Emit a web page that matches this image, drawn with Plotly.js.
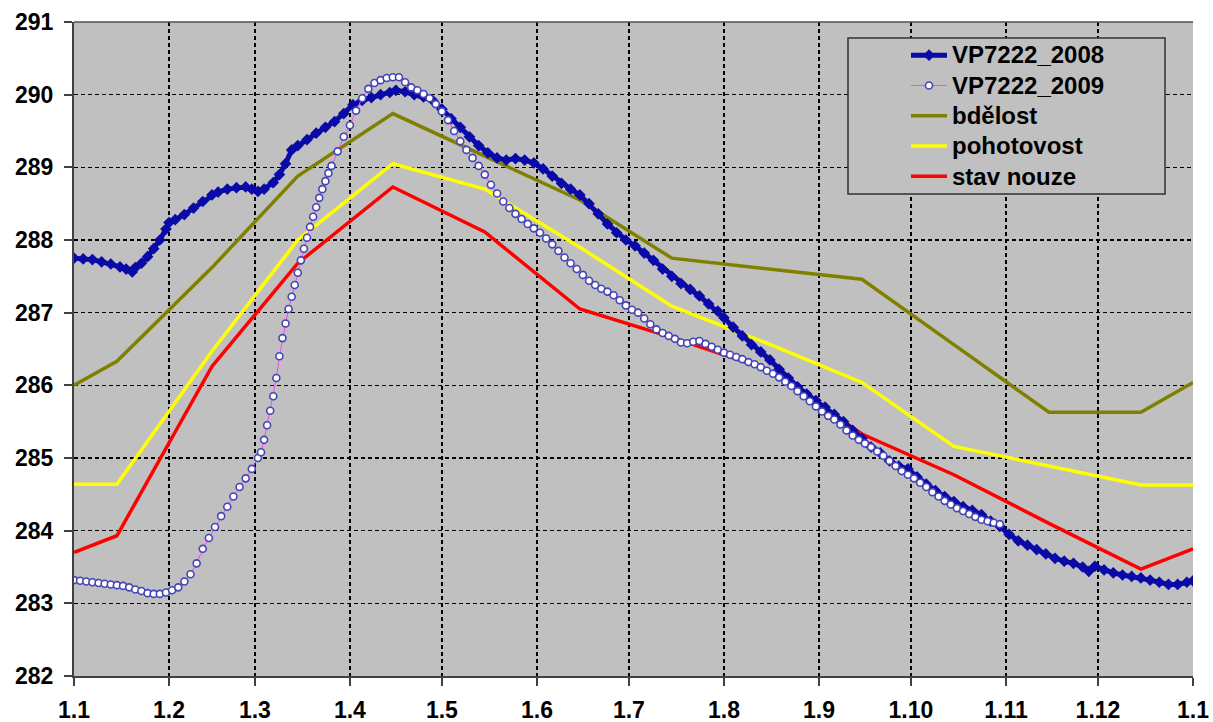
<!DOCTYPE html>
<html>
<head>
<meta charset="utf-8">
<script src="https://cdn.plot.ly/plotly-3.0.1.min.js"></script>
<style>
  html, body { margin: 0; padding: 0; background: #ffffff; }
  #chart { width: 1213px; height: 722px; }
</style>
</head>
<body>
<div id="chart"></div>
<script>
// ---- data (x = day of year, 0 = 1 Jan) ----
const monthTickVals = [0, 31, 59, 90, 120, 151, 181, 212, 243, 273, 304, 334, 365];
const monthTickText = ['1.1', '1.2', '1.3', '1.4', '1.5', '1.6', '1.7', '1.8', '1.9', '1.10', '1.11', '1.12', '1.1'];
const yTickVals = [282, 283, 284, 285, 286, 287, 288, 289, 290, 291];
const seriesNames = ['VP7222_2008', 'VP7222_2009', 'bdělost', 'pohotovost', 'stav nouze'];

const thresholdDays = [0, 14, 45, 73, 104, 134, 165, 195, 226, 257, 287, 318, 348, 365];
const bdelost     = [286.00, 286.33, 287.62, 288.88, 289.74, 289.15, 288.55, 287.75, 287.60, 287.46, 286.56, 285.63, 285.63, 286.04];
const pohotovost  = [284.64, 284.64, 286.47, 288.00, 289.05, 288.70, 287.90, 287.09, 286.58, 286.04, 285.16, 284.89, 284.63, 284.63];
const stavNouze   = [283.70, 283.93, 286.26, 287.68, 288.73, 288.11, 287.05, 286.66, 286.22, 285.33, 284.77, 284.10, 283.47, 283.75];

const days2008 = [0,3,6,9,12,15,17,19,20,22,24,26,28,30,31,33,36,39,42,45,47,50,53,56,58,60,62,65,67,69,71,73,76,79,82,85,88,91,94,97,100,103,105,108,111,114,117,120,123,126,129,132,135,138,141,144,147,150,153,156,159,162,165,168,171,174,177,180,183,186,189,192,195,198,201,204,207,210,212,215,218,221,224,227,230,233,236,239,242,245,248,251,254,257,260,263,266,269,272,275,278,281,284,287,290,293,296,299,302,305,308,311,314,317,320,323,326,329,331,333,336,339,342,345,348,351,354,357,360,363,365];
const vals2008 = [287.75,287.74,287.73,287.70,287.67,287.63,287.60,287.56,287.62,287.68,287.77,287.88,288.00,288.15,288.24,288.28,288.35,288.44,288.53,288.62,288.66,288.70,288.72,288.73,288.70,288.67,288.70,288.79,288.90,289.05,289.24,289.30,289.38,289.47,289.55,289.63,289.74,289.86,289.92,289.96,290.00,290.03,290.06,290.04,290.00,289.97,289.92,289.80,289.67,289.55,289.42,289.30,289.20,289.13,289.10,289.12,289.10,289.06,288.98,288.88,288.78,288.70,288.62,288.50,288.36,288.22,288.10,288.00,287.92,287.82,287.72,287.60,287.50,287.40,287.32,287.23,287.12,287.02,286.93,286.80,286.68,286.56,286.46,286.35,286.22,286.10,285.98,285.88,285.79,285.70,285.60,285.50,285.38,285.27,285.15,285.07,284.96,284.89,284.85,284.74,284.64,284.55,284.47,284.40,284.33,284.28,284.22,284.13,284.06,283.95,283.86,283.80,283.74,283.68,283.62,283.58,283.55,283.50,283.44,283.51,283.46,283.42,283.39,283.37,283.35,283.32,283.29,283.26,283.26,283.29,283.31];

const days2009 = [0,2,4,6,8,10,12,14,16,18,20,22,24,26,28,30,32,34,36,38,40,42,44,46,48,50,52,54,56,58,60,61,62,63,64,65,66,67,68,69,70,71,72,73,74,75,76,77,78,79,80,81,82,83,84,86,88,90,92,94,96,98,100,102,104,106,108,110,112,114,116,118,120,122,124,126,128,130,132,134,136,138,140,142,144,146,148,150,152,154,156,158,160,162,164,166,168,170,172,174,176,178,180,182,184,186,188,190,192,194,196,198,200,202,204,206,208,210,212,214,216,218,220,222,224,226,228,230,232,234,236,238,240,242,244,246,248,250,252,254,256,258,260,262,264,266,268,270,272,274,276,278,280,282,284,286,288,290,292,294,296,298,300,302];
const vals2009 = [283.32,283.31,283.30,283.29,283.28,283.27,283.26,283.25,283.24,283.22,283.19,283.17,283.14,283.13,283.13,283.15,283.18,283.22,283.30,283.40,283.55,283.75,283.90,284.05,284.20,284.33,284.47,284.60,284.72,284.85,285.00,285.08,285.25,285.45,285.65,285.85,286.10,286.40,286.65,286.85,287.05,287.22,287.38,287.55,287.72,287.88,288.03,288.18,288.32,288.45,288.58,288.70,288.81,288.92,289.02,289.22,289.42,289.58,289.78,289.95,290.08,290.16,290.20,290.23,290.24,290.24,290.17,290.10,290.06,290.01,289.95,289.87,289.77,289.65,289.50,289.36,289.24,289.13,289.02,288.90,288.76,288.64,288.53,288.44,288.36,288.29,288.22,288.16,288.10,288.02,287.94,287.85,287.76,287.68,287.60,287.52,287.44,287.38,287.33,287.29,287.24,287.17,287.10,287.04,287.00,286.92,286.84,286.77,286.72,286.68,286.64,286.59,286.58,286.60,286.61,286.57,286.53,286.49,286.45,286.42,286.39,286.36,286.32,286.29,286.25,286.20,286.16,286.11,286.05,285.99,285.92,285.85,285.78,285.71,285.64,285.58,285.53,285.46,285.38,285.31,285.25,285.20,285.15,285.09,285.03,284.96,284.89,284.82,284.77,284.72,284.66,284.60,284.53,284.47,284.41,284.36,284.31,284.27,284.23,284.19,284.15,284.13,284.11,284.09];

// ---- style ----
const FONT = 'Liberation Sans, Arial, sans-serif';
const plotL = 74, plotR = 20, plotT = 22, plotB = 46, W = 1213, H = 722;
const pw = W - plotL - plotR, ph = H - plotT - plotB;
const px = v => (v - plotL) / pw;
const py = v => 1 - (v - plotT) / ph;
const legName = s => '<span style="font-size:24px">' + s + '</span>';

const traces = [
  { name: legName(seriesNames[2]), x: thresholdDays, y: bdelost, mode: 'lines', legendrank: 3,
    line: { color: '#808000', width: 3.5 } },
  { name: legName(seriesNames[3]), x: thresholdDays, y: pohotovost, mode: 'lines', legendrank: 4,
    line: { color: '#ffff00', width: 3.5 } },
  { name: legName(seriesNames[4]), x: thresholdDays, y: stavNouze, mode: 'lines', legendrank: 5,
    line: { color: '#ff0000', width: 3.5 } },
  { name: legName(seriesNames[0]), x: days2008, y: vals2008, mode: 'lines+markers', legendrank: 1,
    line: { color: '#0a0aa8', width: 5 },
    marker: { symbol: 'diamond', size: 9, color: '#0a0aa8', line: { width: 0 } } },
  { name: legName(seriesNames[1]), x: days2009, y: vals2009, mode: 'lines+markers', legendrank: 2,
    line: { color: '#ff40ff', width: 1 },
    marker: { symbol: 'circle', size: 7, color: '#ffffff', line: { color: '#4444b8', width: 1.6 } } }
];

const layout = {
  width: W, height: H,
  margin: { l: plotL, r: plotR, t: plotT, b: plotB, pad: 0 },
  paper_bgcolor: '#ffffff',
  plot_bgcolor: '#c0c0c0',
  showlegend: true,
  legend: {
    x: px(906), xanchor: 'left', y: py(35), yanchor: 'top',
    bgcolor: 'rgba(0,0,0,0)', borderwidth: 0,
    font: { family: FONT, size: 21, color: '#000', weight: 'bold' },
    itemwidth: 36, traceorder: 'normal'
  },
  xaxis: {
    range: [0, 365], tickmode: 'array', tickvals: monthTickVals, ticktext: monthTickText,
    showgrid: true, gridcolor: '#000000', gridwidth: 1.5, griddash: '4px,3px',
    zeroline: false, showline: true, linecolor: '#404040', linewidth: 2,
    ticks: 'outside', ticklen: 8, tickwidth: 2, tickcolor: '#404040',
    tickfont: { family: FONT, size: 23, color: '#000', weight: 'bold' },
    ticklabelstandoff: 4, fixedrange: true
  },
  yaxis: {
    range: [282, 291], tickmode: 'array', tickvals: yTickVals,
    showgrid: true, gridcolor: '#000000', gridwidth: 1.5, griddash: '4px,3px',
    zeroline: false, showline: true, linecolor: '#404040', linewidth: 2,
    ticks: 'outside', ticklen: 8, tickwidth: 2, tickcolor: '#404040',
    tickfont: { family: FONT, size: 23, color: '#000', weight: 'bold' },
    ticklabelstandoff: 6, fixedrange: true
  },
  shapes: [
    { type: 'line', xref: 'paper', yref: 'paper', x0: 0, x1: 1, y0: 1, y1: 1,
      line: { color: '#505050', width: 1.5 } },
    { type: 'rect', xref: 'paper', yref: 'paper', layer: 'above',
      x0: px(848), x1: px(1165), y0: py(194), y1: py(38),
      fillcolor: '#c0c0c0', line: { color: '#303030', width: 1.5 } }
  ]
};

Plotly.newPlot('chart', traces, layout, { displayModeBar: false, staticPlot: true });
</script>
</body>
</html>
